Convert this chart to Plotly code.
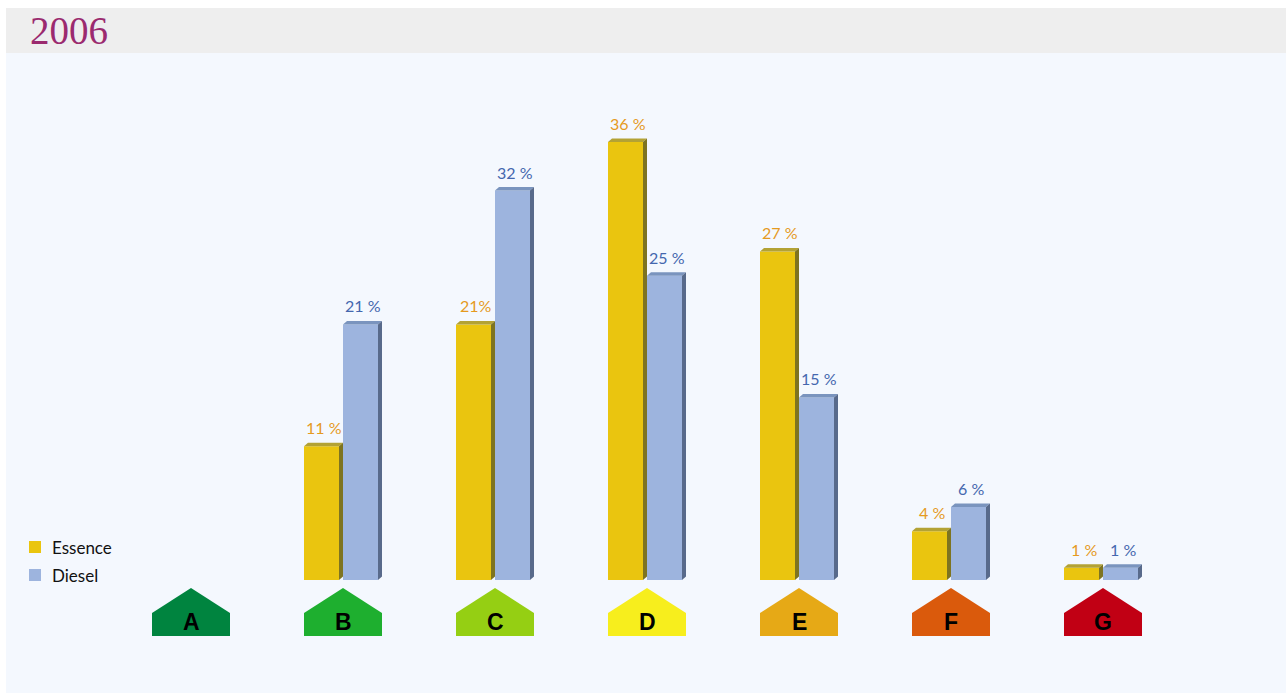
import plotly.graph_objects as go

# ---- data ----
classes = ["A", "B", "C", "D", "E", "F", "G"]
essence = [None, 11, 21, 36, 27, 4, 1]
diesel = [None, 21, 32, 25, 15, 6, 1]
essence_labels = ["", "11 %", "21%", "36 %", "27 %", "4 %", "1 %"]
diesel_labels = ["", "21 %", "32 %", "25 %", "15 %", "6 %", "1 %"]
series_names = ["Essence", "Diesel"]
title_text = "2006"

# ---- styles ----
OFF = 0               # page body margin (removed via post_script)
W, H = 1286 - OFF, 695 - OFF
PX_X = 152.0          # px per category
PX_Y = 12.17          # px per percent
X0_PX = 191 - OFF     # pixel of first category centre
Y0_PX = 580 - OFF     # pixel of value 0

house_colors = ["#00843F", "#1EAF2F", "#95CF13", "#F7EE1D", "#E6A916", "#DA5A0C", "#C10014"]
ess_front, ess_top, ess_side = "#EAC50F", "#B3A234", "#7E7420"
die_front, die_top, die_side = "#9DB4DE", "#7A94BE", "#586A8B"
ess_lab, die_lab = "#E59A1E", "#4467AE"

xr0 = -X0_PX / PX_X
xr1 = xr0 + W / PX_X
yr1 = Y0_PX / PX_Y
yr0 = yr1 - H / PX_Y

def ux(px):
    return px / PX_X

def uy(px):
    return px / PX_Y

ess_off, die_off = ux(-39), ux(0)
bw = ux(35)
dx, dy = ux(4), uy(3.5)

idx = list(range(len(classes)))
fig = go.Figure()
fig.add_trace(go.Bar(x=idx, y=essence, name=series_names[0], offset=ess_off, width=bw,
                     marker=dict(color=ess_front, line=dict(width=0)), showlegend=False))
fig.add_trace(go.Bar(x=idx, y=diesel, name=series_names[1], offset=die_off, width=bw,
                     marker=dict(color=die_front, line=dict(width=0)), showlegend=False))

shapes = []
annotations = []

def faces(xc, off, v, top, side):
    if v is None:
        return
    xl = xc + off
    xr = xl + bw
    shapes.append(dict(type="path", xref="x", yref="y", layer="above",
                       path=f"M{xl},{v} L{xl+dx},{v+dy} L{xr+dx},{v+dy} L{xr},{v} Z",
                       fillcolor=top, line=dict(width=0)))
    shapes.append(dict(type="path", xref="x", yref="y", layer="above",
                       path=f"M{xr},{v} L{xr+dx},{v+dy} L{xr+dx},{dy} L{xr},0 Z",
                       fillcolor=side, line=dict(width=0)))

for i in idx:
    faces(i, ess_off, essence[i], ess_top, ess_side)
    faces(i, die_off, diesel[i], die_top, die_side)
    if essence[i] is not None:
        annotations.append(dict(x=i + ess_off + (bw + dx) / 2, y=essence[i], xref="x", yref="y",
                                text=essence_labels[i], showarrow=False, yanchor="bottom", yshift=7,
                                font=dict(family="Lato", size=16, color=ess_lab)))
    if diesel[i] is not None:
        annotations.append(dict(x=i + die_off + (bw + dx) / 2, y=diesel[i], xref="x", yref="y",
                                text=diesel_labels[i], showarrow=False, yanchor="bottom", yshift=7,
                                font=dict(family="Lato", size=16, color=die_lab)))
    # house label
    hl, hr = i - ux(39), i + ux(39)
    yb, ys, yp = uy(580 - 636), uy(580 - 613), uy(580 - 588)
    shapes.append(dict(type="path", xref="x", yref="y", layer="above",
                       path=f"M{hl},{yb} L{hl},{ys} L{i},{yp} L{hr},{ys} L{hr},{yb} Z",
                       fillcolor=house_colors[i], line=dict(width=0)))
    annotations.append(dict(x=i, y=uy(580 - 622), xref="x", yref="y", text=f"<b>{classes[i]}</b>",
                            showarrow=False, yanchor="middle",
                            font=dict(family="Liberation Sans", size=23, color="#000000")))

# background panels (paper coords, margins 0); page pixel -> paper
def px2paper_x(px):
    return (px - OFF) / W

def px2paper_y(py):
    return 1 - (py - OFF) / H

shapes.insert(0, dict(type="rect", xref="paper", yref="paper", layer="below",
                      x0=px2paper_x(6), x1=1, y0=px2paper_y(53), y1=px2paper_y(8),
                      fillcolor="#EEEEEE", line=dict(width=0)))
shapes.insert(1, dict(type="rect", xref="paper", yref="paper", layer="below",
                      x0=px2paper_x(6), x1=1, y0=px2paper_y(693), y1=px2paper_y(53),
                      fillcolor="#F4F8FE", line=dict(width=0)))

# title
annotations.append(dict(x=px2paper_x(28), y=px2paper_y(31), xref="paper", yref="paper",
                        text=title_text, showarrow=False, xanchor="left", yanchor="middle",
                        font=dict(family="Liberation Serif", size=39, color="#9B2A6F")))

# legend
for k, (nm, col) in enumerate(zip(series_names, [ess_front, die_front])):
    yc = 547 + 28 * k
    shapes.append(dict(type="rect", xref="paper", yref="paper",
                       x0=px2paper_x(29), x1=px2paper_x(41), y0=px2paper_y(yc + 6), y1=px2paper_y(yc - 6),
                       fillcolor=col, line=dict(width=0)))
    annotations.append(dict(x=px2paper_x(50), y=px2paper_y(yc), xref="paper", yref="paper",
                            text=nm, showarrow=False, xanchor="left", yanchor="middle",
                            font=dict(family="Lato", size=17, color="#111111")))

fig.update_layout(
    width=W, height=H,
    margin=dict(l=0, r=0, t=0, b=0),
    paper_bgcolor="#FFFFFF", plot_bgcolor="rgba(0,0,0,0)",
    barmode="overlay",
    xaxis=dict(range=[xr0, xr1], visible=False, fixedrange=True),
    yaxis=dict(range=[yr0, yr1], visible=False, fixedrange=True),
    shapes=shapes, annotations=annotations, showlegend=False,
)
fig.write_html(
    "out.html",
    config={"displayModeBar": False},
    post_script="document.body.style.margin='0';document.body.style.overflow='hidden';",
)
